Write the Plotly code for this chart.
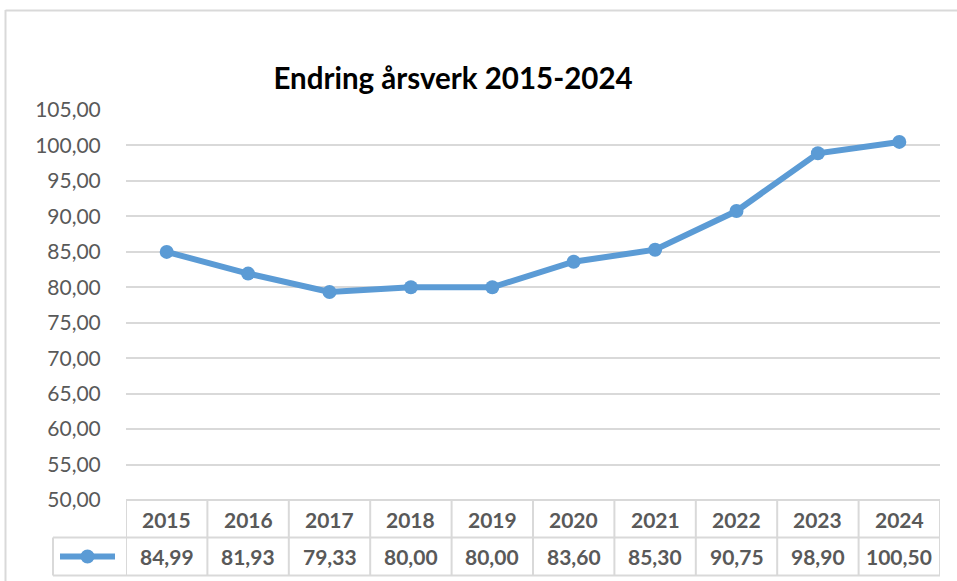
import plotly.graph_objects as go

years = ["2015", "2016", "2017", "2018", "2019", "2020", "2021", "2022", "2023", "2024"]
values = [84.99, 81.93, 79.33, 80.00, 80.00, 83.60, 85.30, 90.75, 98.90, 100.50]
title_text = "Endring årsverk 2015-2024"
y_ticks = [50, 55, 60, 65, 70, 75, 80, 85, 90, 95, 100, 105]

W, H = 957, 581
LINE = "#5B9BD5"
GRID = "#D9D9D9"
TXT = "#595959"
FONT = "Lato, Open Sans, sans-serif"

def px(x):
    return x / W

def py(y):
    return 1 - y / H

x_idx = list(range(len(years)))

fig = go.Figure()
fig.add_trace(go.Scatter(
    x=x_idx, y=values, mode="lines+markers",
    line=dict(color=LINE, width=6),
    marker=dict(color=LINE, size=14),
    showlegend=False, hoverinfo="skip", cliponaxis=False,
))

shapes = []
# outer border
shapes.append(dict(type="line", xref="paper", yref="paper", x0=px(5.5), x1=px(5.5), y0=py(10), y1=0, line=dict(color=GRID, width=2)))
shapes.append(dict(type="line", xref="paper", yref="paper", x0=px(5.5), x1=1, y0=py(10.5), y1=py(10.5), line=dict(color=GRID, width=2)))

# table horizontal lines
shapes.append(dict(type="line", xref="x", yref="paper", x0=-0.5, x1=len(years) - 0.5, y0=py(500), y1=py(500), line=dict(color=GRID, width=2)))
for yy in (537.5, 575.5):
    shapes.append(dict(type="line", xref="paper", yref="paper", x0=px(53), x1=px(940), y0=py(yy), y1=py(yy), line=dict(color=GRID, width=2)))
# table vertical lines
for k in range(len(years) + 1):
    shapes.append(dict(type="line", xref="x", yref="paper", x0=k - 0.5, x1=k - 0.5, y0=py(500), y1=py(575.5), line=dict(color=GRID, width=2)))
shapes.append(dict(type="line", xref="paper", yref="paper", x0=px(53), x1=px(53), y0=py(537.5), y1=py(575.5), line=dict(color=GRID, width=2)))

# legend key in the table
shapes.append(dict(type="line", xref="paper", yref="paper", x0=px(60), x1=px(115), y0=py(556.5), y1=py(556.5), line=dict(color=LINE, width=6)))
shapes.append(dict(type="circle", xref="paper", yref="paper", x0=px(80.5), x1=px(94.5), y0=py(549.5), y1=py(563.5),
                   fillcolor=LINE, line=dict(color=LINE, width=0)))

annotations = []
for i, (yr, v) in enumerate(zip(years, values)):
    annotations.append(dict(x=i, y=py(519), xref="x", yref="paper", text=f"<b>{yr}</b>", showarrow=False,
                            font=dict(family=FONT, size=21, color=TXT), xanchor="center", yanchor="middle"))
    annotations.append(dict(x=i, y=py(556.5), xref="x", yref="paper", text="<b>" + f"{v:.2f}".replace(".", ",") + "</b>",
                            showarrow=False, font=dict(family=FONT, size=21, color=TXT), xanchor="center", yanchor="middle"))

fig.update_layout(
    width=W, height=H,
    margin=dict(l=0, r=0, t=0, b=0, pad=0, autoexpand=False),
    paper_bgcolor="white", plot_bgcolor="white",
    separators=",.",
    title=dict(text=f"<b>{title_text}</b>", x=px(453), y=py(79), xanchor="center", yanchor="middle",
               font=dict(family=FONT, size=29.5, color="black"), automargin=False),
    xaxis=dict(domain=[px(126), px(940)], range=[-0.5, len(years) - 0.5], showgrid=False, zeroline=False,
               showticklabels=False, showline=False, fixedrange=True, automargin=False),
    yaxis=dict(domain=[py(500), py(110)], range=[50, 105], tickvals=y_ticks, tickformat=".2f",
               showgrid=True, gridcolor=GRID, gridwidth=2, zeroline=False, showline=False,
               tickfont=dict(family=FONT, size=21, color=TXT), automargin=False,
               ticks="outside", ticklen=20, tickcolor="white", fixedrange=True),
    shapes=shapes,
    annotations=annotations,
)

fig.write_html("out.html", config={"displayModeBar": False, "staticPlot": True},
               post_script="document.body.style.margin='0px';document.body.style.overflow='hidden';")
